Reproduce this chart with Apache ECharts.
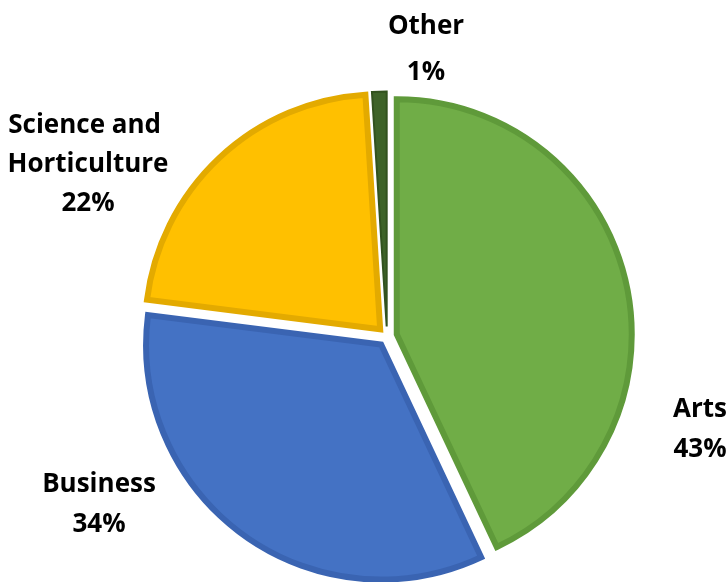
<!DOCTYPE html>
<html>
<head>
<meta charset="utf-8">
<script src="https://cdn.jsdelivr.net/npm/echarts@6/dist/echarts.min.js"></script>
<style>
  html, body { margin: 0; padding: 0; background: #ffffff; }
  #chart { width: 728px; height: 582px; }
</style>
</head>
<body>
<div id="chart"></div>
<script>
// Share of students by field of study (percent)
const categories = ['Arts', 'Business', 'Science and Horticulture', 'Other'];
const shares = [43, 34, 22, 1];

const fillColors = ['#70AD47', '#4472C4', '#FFC000', '#3E6329'];
const edgeColors = ['#5F9A3A', '#3A64B2', '#E3AA00', '#32521F'];

// Centre of each label block, in pixels, and its line spacing
const labelSpots = {
  'Arts': [700, 430, 40],
  'Business': [99, 505, 40],
  'Science and Horticulture': [88, 165, 39],
  'Other': [426, 50, 46]
};

const total = shares.reduce(function (a, b) { return a + b; }, 0);

const labelTexts = categories.map(function (name, i) {
  const s = labelSpots[name];
  return {
    type: 'text',
    x: s[0],
    y: s[1],
    silent: true,
    style: {
      text: name + '\n' + Math.round(shares[i] / total * 100) + '%',
      fill: '#000000',
      fontFamily: 'Open Sans',
      fontWeight: 'bold',
      fontSize: 26,
      lineHeight: s[2],
      width: 180,
      overflow: 'break',
      align: 'center',
      verticalAlign: 'middle'
    }
  };
});

const chart = echarts.init(document.getElementById('chart'), null, { renderer: 'canvas' });

chart.setOption({
  animation: false,
  backgroundColor: '#ffffff',
  graphic: labelTexts,
  series: [{
    type: 'pie',
    center: [387, 336.5],
    radius: 235,
    startAngle: 90,
    clockwise: true,
    selectedMode: 'multiple',
    selectedOffset: 10,
    emphasis: { disabled: true },
    labelLine: { show: false },
    label: { show: false },
    data: categories.map(function (name, i) {
      return {
        name: name,
        value: shares[i],
        selected: true,
        itemStyle: {
          color: fillColors[i],
          borderColor: edgeColors[i],
          borderWidth: i === 3 ? 2 : 6,
          borderJoin: 'miter'
        }
      };
    })
  }]
});
</script>
</body>
</html>
